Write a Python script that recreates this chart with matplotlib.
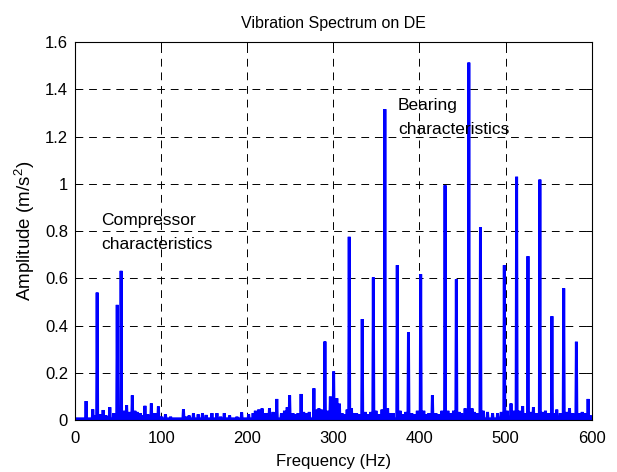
import numpy as np
import matplotlib.pyplot as plt

plt.rcParams['font.family'] = ['Liberation Sans', 'DejaVu Sans']
plt.rcParams['mathtext.fontset'] = 'custom'
plt.rcParams['mathtext.rm'] = 'Liberation Sans'

# compressor lines (Hz, m/s^2)
comp_freq = [25.7, 49.0, 53.5]
comp_amp = [0.54, 0.488, 0.632]

# bearing lines
bear_freq = [318.4, 333.5, 346.4, 359.8, 374.2, 387.2, 401.4, 415.0, 429.7, 442.8,
             457.3, 470.8, 498.5, 512.8, 526.0, 539.8, 553.8, 567.5, 582.2, 595.8]
bear_amp = [0.776, 0.428, 0.604, 1.316, 0.656, 0.372, 0.618, 0.105, 0.994, 0.596,
            1.513, 0.816, 0.656, 1.03, 0.694, 1.018, 0.44, 0.558, 0.332, 0.09]

# medium lines between 230 and 310 Hz
mid_freq = [234.3, 249.2, 262.5, 277.4, 290.2, 296.5, 300.3, 304.0, 307.0]
mid_amp = [0.09, 0.105, 0.111, 0.135, 0.333, 0.10, 0.206, 0.093, 0.07]

# small components below 300 Hz
low_freq = [12.8, 20.6, 23.0, 29.0, 32.6, 36.0, 40.4, 45.0, 51.0, 56.5, 59.9, 63.3,
            66.5, 69.5, 72.0, 76.0, 78.5, 81.2, 84.5, 88.6, 91.0, 93.7, 96.8, 100.5,
            105.0, 111.0, 125.9, 129.5, 132.5, 137.5, 143.0, 148.0, 152.3, 159.0,
            164.8, 169.0, 173.3, 179.5, 188.0, 193.5, 201.6, 206.8, 209.4, 213.3,
            217.2, 220.0, 223.0, 225.8, 230.0, 239.7, 243.2, 246.4, 253.0, 256.0,
            259.0, 265.5, 268.9, 272.0, 281.3, 283.2, 286.0, 293.0]
low_amp = [0.081, 0.046, 0.02, 0.025, 0.043, 0.02, 0.055, 0.03, 0.03, 0.04, 0.064, 0.035,
           0.105, 0.04, 0.035, 0.03, 0.02, 0.061, 0.025, 0.071, 0.03, 0.03, 0.058, 0.015,
           0.025, 0.015, 0.047, 0.015, 0.02, 0.03, 0.025, 0.03, 0.022, 0.03,
           0.03, 0.015, 0.03, 0.02, 0.015, 0.033, 0.025, 0.03, 0.04, 0.045,
           0.05, 0.03, 0.03, 0.05, 0.035, 0.03, 0.04, 0.055, 0.03, 0.025,
           0.03, 0.035, 0.03, 0.035, 0.045, 0.05, 0.045, 0.04]

# small components above 300 Hz
high_freq = [310, 313, 316, 321, 324, 327, 330, 337, 340, 343.5, 349.5, 353, 356.5,
             363, 366, 369.5, 377.5, 381, 384, 391, 394, 397.5, 405, 408, 411, 419,
             422, 426, 433, 436, 439.5, 446, 449, 453, 461, 463.5, 467, 474, 479,
             484.9, 490.7, 495, 502, 506.3, 509, 516, 519.8, 522.5, 529, 532.3, 535.5,
             543, 546.3, 550, 557, 559.4, 563.5, 571, 574.2, 578, 585.5, 589, 592, 598.5]
high_amp = [0.03, 0.025, 0.045, 0.05, 0.03, 0.03, 0.025, 0.035, 0.025, 0.035, 0.04, 0.025, 0.045,
            0.05, 0.03, 0.03, 0.04, 0.025, 0.035, 0.03, 0.025, 0.04, 0.04, 0.025, 0.03, 0.03,
            0.025, 0.04, 0.04, 0.03, 0.04, 0.035, 0.03, 0.05, 0.05, 0.035, 0.03, 0.04, 0.035,
            0.03, 0.03, 0.035, 0.04, 0.071, 0.04, 0.04, 0.06, 0.03, 0.035, 0.055, 0.03,
            0.035, 0.04, 0.03, 0.03, 0.045, 0.03, 0.035, 0.05, 0.03, 0.03, 0.035, 0.03, 0.02]

floor = 0.006

x_ticks = [0, 100, 200, 300, 400, 500, 600]
y_ticks = [0, 0.2, 0.4, 0.6, 0.8, 1.0, 1.2, 1.4, 1.6]
y_ticklabels = ['0', '0.2', '0.4', '0.6', '0.8', '1', '1.2', '1.4', '1.6']

freq = np.array(comp_freq + bear_freq + mid_freq + low_freq + high_freq, dtype=float)
amp = np.array(comp_amp + bear_amp + mid_amp + low_amp + high_amp, dtype=float)
order = np.argsort(freq)

# each line is drawn as a narrow spike on the noise floor
xs, ys = [0.0], [floor]
for f, a in zip(freq[order], amp[order]):
    xs += [f - 0.6, f, f + 0.6]
    ys += [floor, a, floor]
xs.append(600.0)
ys.append(floor)

fig = plt.figure(figsize=(6.17, 4.72), dpi=100)
ax = fig.add_axes([0.1216, 0.1097, 0.8374, 0.8013])

ax.plot(xs, ys, color='blue', linewidth=2.1, solid_joinstyle='miter')

ax.set_xlim(0, 600)
ax.set_ylim(0, 1.6)
ax.set_xticks(x_ticks)
ax.set_yticks(y_ticks)
ax.set_yticklabels(y_ticklabels)
ax.tick_params(direction='in', top=True, right=True, length=4, width=0.7,
               labelsize=12, pad=5)
ax.tick_params(axis='x', pad=7.5)
ax.grid(True, color='black', linestyle=(0, (8, 6)), linewidth=0.7)
ax.set_axisbelow(True)
for s in ax.spines.values():
    s.set_linewidth(0.8)

ax.set_title('Vibration Spectrum on DE', fontsize=11.5, pad=10)
ax.set_xlabel('Frequency (Hz)', fontsize=12, labelpad=6)
ax.set_ylabel('Amplitude (m/s$^2$)', fontsize=13.5, labelpad=6)

ax.text(30, 0.875, 'Compressor\ncharacteristics', fontsize=12.5,
        ha='left', va='top', linespacing=1.7)
ax.text(375, 1.362, 'Bearing\ncharacteristics', fontsize=12.5,
        ha='left', va='top', linespacing=1.7)

fig.savefig('out.png', dpi=100)
